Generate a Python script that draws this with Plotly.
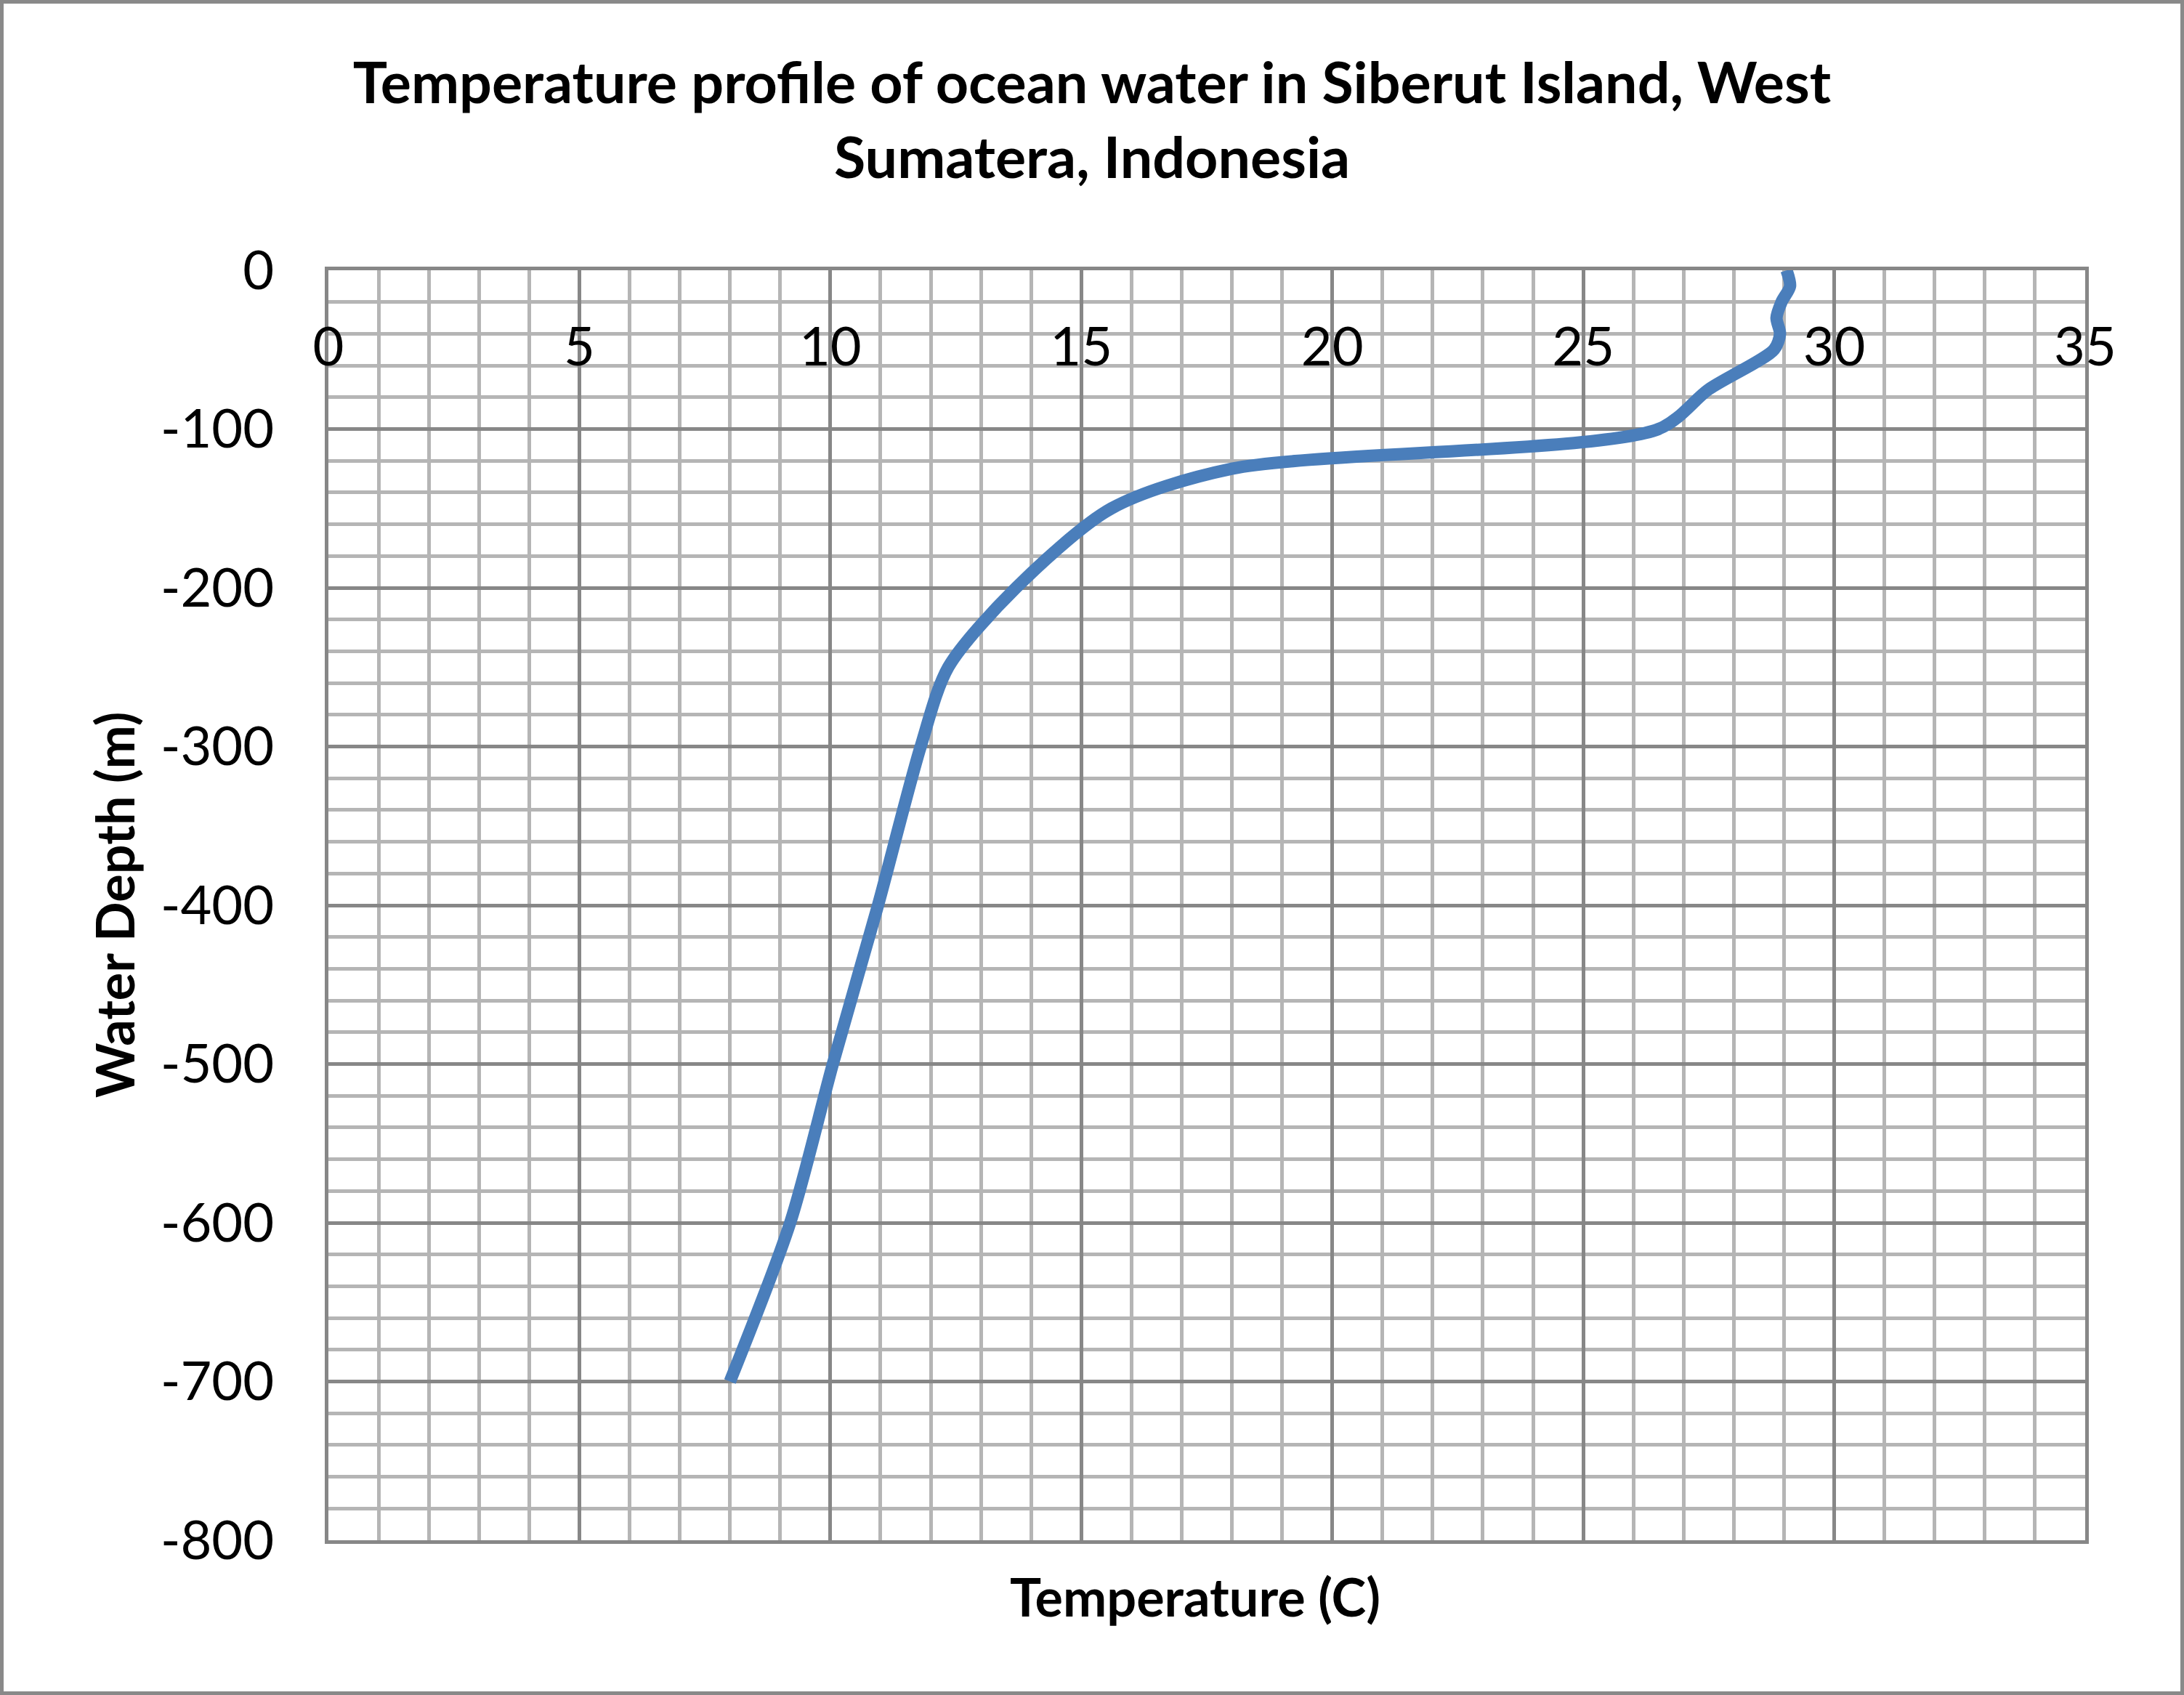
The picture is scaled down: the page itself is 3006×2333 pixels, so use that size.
import plotly.graph_objects as go

# Data
depth_m = [0, 10, 20, 30, 40, 50, 75, 100, 125, 150, 200, 250, 300, 400, 500, 600, 700]
temperature_c = [29.05, 29.12, 28.95, 28.85, 28.92, 28.8, 27.5, 26.5, 18.0, 15.6, 13.7,
                 12.35, 11.8, 10.95, 10.05, 9.2, 8.0]
water_depth = [-d for d in depth_m]

x_tick_vals = [0, 5, 10, 15, 20, 25, 30, 35]
x_tick_text = ["0", "5", "10", "15", "20", "25", "30", "35"]
y_tick_vals = [0, -100, -200, -300, -400, -500, -600, -700, -800]
y_tick_text = ["0", "-100", "-200", "-300", "-400", "-500", "-600", "-700", "-800"]

title_text = "Temperature profile of ocean water in Siberut Island, West<br>Sumatera, Indonesia"
x_title = "Temperature (C)"
y_title = "Water Depth (m)"

W, H = 3006, 2333
L, R, T, B = 452, 2870, 372, 2120  # plot area in pixels

MAJOR = "#878787"
MINOR = "#B5B5B5"
FONT = "Lato"

fig = go.Figure()
fig.add_trace(go.Scatter(
    x=temperature_c, y=water_depth, mode="lines",
    line=dict(color="#4A7EBB", width=17, shape="spline", smoothing=0.8),
    showlegend=False, hoverinfo="x+y",
))

fig.update_layout(
    width=W, height=H,
    margin=dict(l=L, r=W - R, t=T, b=H - B, pad=0),
    paper_bgcolor="white", plot_bgcolor="white",
    font=dict(family=FONT, color="black", size=74),
    title=dict(text=title_text, x=0.5, xanchor="center", xref="container",
               y=1 - 142 / H, yanchor="top", yref="container",
               font=dict(family=FONT, size=79, color="black", weight="bold")),
    xaxis=dict(
        range=[0, 35], side="top", tickmode="array", tickvals=x_tick_vals, ticktext=x_tick_text,
        ticks="", ticklabelposition="inside", ticklabeloverflow="allow", ticklabelstandoff=91,
        tickfont=dict(family=FONT, size=74, color="black"),
        showgrid=True, gridcolor=MAJOR, gridwidth=5,
        minor=dict(tickmode="linear", tick0=0, dtick=1, showgrid=True, gridcolor=MINOR, gridwidth=5, ticks=""),
        showline=True, linecolor=MAJOR, linewidth=5, mirror=True, zeroline=False,
        fixedrange=True,
    ),
    yaxis=dict(
        range=[-800, 0], tickmode="array", tickvals=y_tick_vals, ticktext=y_tick_text,
        ticks="", ticklabelstandoff=55,
        tickfont=dict(family=FONT, size=74, color="black"),
        showgrid=True, gridcolor=MAJOR, gridwidth=5,
        minor=dict(tickmode="linear", tick0=0, dtick=20, showgrid=True, gridcolor=MINOR, gridwidth=5, ticks=""),
        showline=True, linecolor=MAJOR, linewidth=5, mirror=True, zeroline=False,
        fixedrange=True,
    ),
)

pw, ph = R - L, B - T
def px_x(p):
    return (p - L) / pw
def px_y(p):
    return (B - p) / ph

fig.add_annotation(text=y_title, textangle=-90, xref="paper", yref="paper",
                   x=px_x(157), y=0.5, showarrow=False, xanchor="center", yanchor="middle",
                   font=dict(family=FONT, size=72, color="black", weight="bold"))
fig.add_annotation(text=x_title, xref="paper", yref="paper",
                   x=px_x(1645), y=px_y(2197), showarrow=False, xanchor="center", yanchor="middle",
                   font=dict(family=FONT, size=72, color="black", weight="bold"))

# outer chart border
fig.add_shape(type="rect", xref="paper", yref="paper",
              x0=px_x(2.5), x1=px_x(3003.5), y0=px_y(2330.5), y1=px_y(2.5),
              line=dict(color="#898989", width=5), fillcolor="rgba(0,0,0,0)", layer="above")

fig.write_html("out.html")
